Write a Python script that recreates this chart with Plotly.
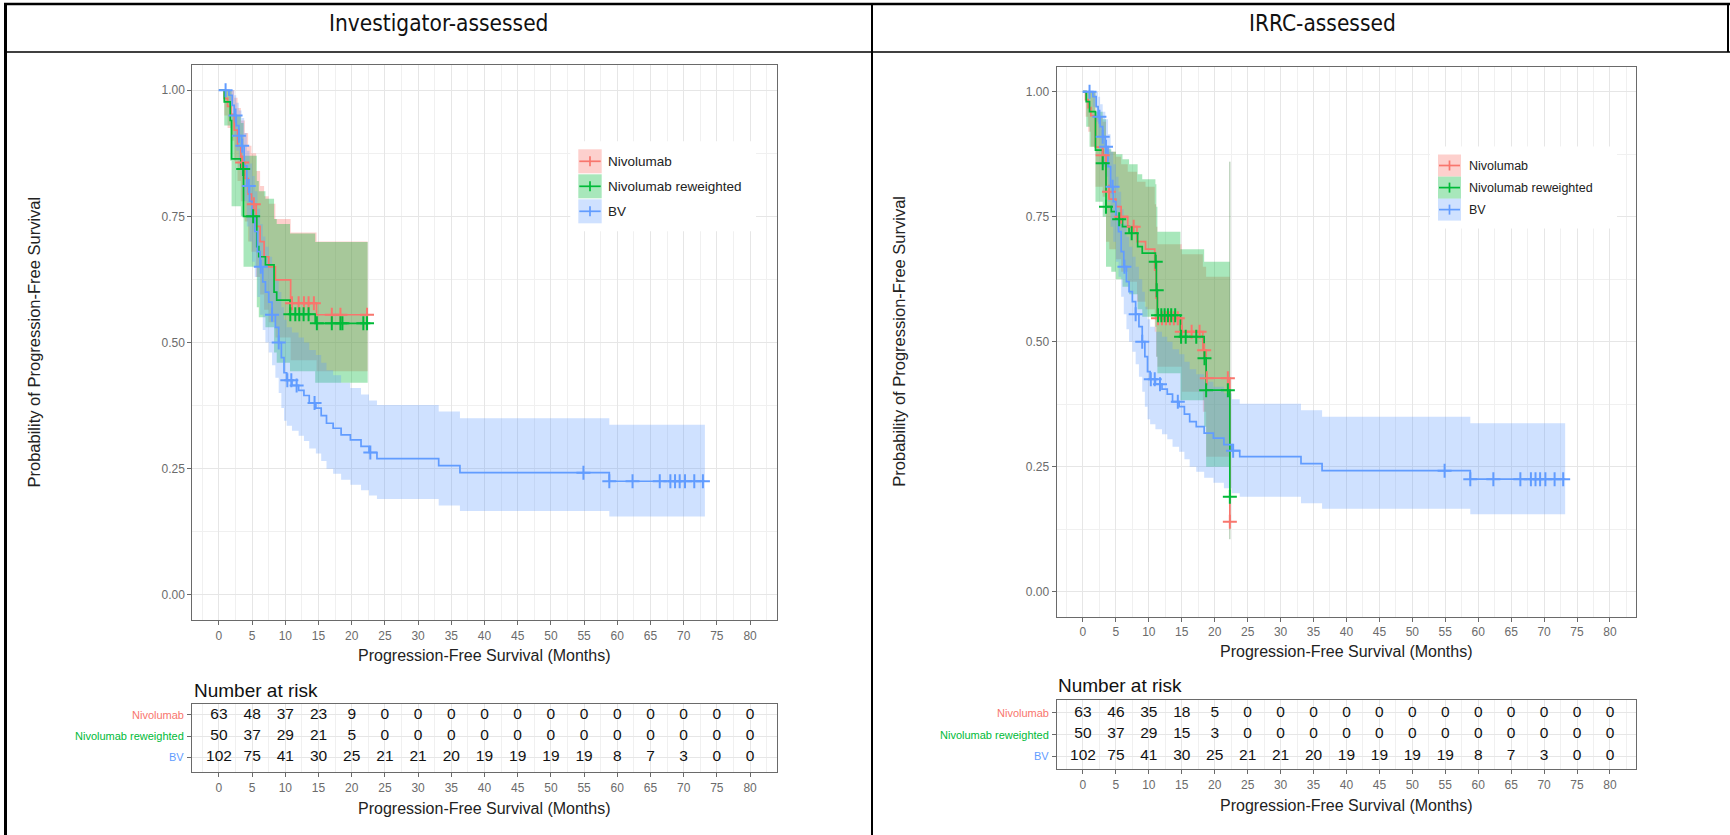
import numpy as np
import plotly.graph_objects as go

W, H = 1730, 835
FONT = "Liberation Sans, Arial, sans-serif"
RED, GREEN, BLUE = "#F8766D", "#00BA38", "#619CFF"
FILL = {RED: "rgba(248,118,109,0.34)", GREEN: "rgba(0,186,56,0.34)", BLUE: "rgba(97,156,255,0.30)"}

# ---------------- data ----------------
panel_titles = ["Investigator-assessed", "IRRC-assessed"]
groups = ["Nivolumab", "Nivolumab reweighted", "BV"]
risk_times = list(range(0, 85, 5))

# BV (same comparator arm in both panels)
bv_t = [0, 1.5, 2.0, 2.3, 2.6, 3.0, 3.4, 3.8, 4.2, 4.6, 5.0, 5.4, 5.8, 6.2, 6.6, 7.0, 7.5, 8.0, 8.5, 9.0,
        9.4, 9.8, 10.2, 11.0, 12.0, 12.8, 13.6, 14.6, 15.4, 16.2, 17.2, 18.4, 19.8, 21.4, 22.6, 23.8, 33.1, 36.3, 58.8]
bv_s = [1.0, 0.99, 0.97, 0.95, 0.93, 0.91, 0.89, 0.85, 0.81, 0.78, 0.75, 0.72, 0.68, 0.65, 0.62, 0.60, 0.58, 0.555, 0.53, 0.50,
        0.47, 0.44, 0.425, 0.415, 0.405, 0.395, 0.38, 0.37, 0.355, 0.34, 0.33, 0.317, 0.307, 0.294, 0.282, 0.27, 0.256, 0.242, 0.225]
bv_hi = [1.0, 1.0, 1.0, 0.99, 0.975, 0.96, 0.945, 0.915, 0.88, 0.855, 0.83, 0.80, 0.765, 0.735, 0.71, 0.69, 0.67, 0.65, 0.625, 0.60,
         0.57, 0.545, 0.53, 0.52, 0.51, 0.50, 0.485, 0.475, 0.46, 0.445, 0.435, 0.42, 0.41, 0.397, 0.385, 0.376, 0.363, 0.35, 0.337]
bv_lo = [1.0, 0.97, 0.94, 0.91, 0.88, 0.85, 0.83, 0.78, 0.73, 0.70, 0.66, 0.63, 0.59, 0.555, 0.525, 0.50, 0.48, 0.455, 0.43, 0.40,
         0.37, 0.345, 0.335, 0.325, 0.315, 0.305, 0.29, 0.28, 0.265, 0.25, 0.24, 0.228, 0.218, 0.207, 0.197, 0.19, 0.177, 0.166, 0.155]
bv_end = 73.2
bv_cens = [1.0, 2.5, 3.0, 3.5, 4.5, 6.3, 8.0, 9.0, 10.3, 10.9, 11.7, 14.4, 22.8, 54.9, 58.8, 62.3, 66.4, 68.0, 68.7,
           69.4, 70.2, 71.6, 72.9]

# Investigator-assessed: Nivolumab
inv_n_t = [0, 0.8, 1.3, 1.8, 2.3, 2.8, 3.3, 3.9, 4.4, 4.9, 5.6, 6.2, 6.8, 7.5, 8.5, 10.8, 14.7]
inv_n_s = [1.0, 0.984, 0.968, 0.952, 0.921, 0.889, 0.857, 0.825, 0.794, 0.774, 0.73, 0.70, 0.67, 0.65, 0.624, 0.578, 0.555]
inv_n_hi = [1.0, 1.0, 1.0, 1.0, 0.985, 0.965, 0.94, 0.915, 0.89, 0.875, 0.84, 0.81, 0.79, 0.775, 0.745, 0.718, 0.70]
inv_n_lo = [1.0, 0.95, 0.925, 0.90, 0.86, 0.82, 0.78, 0.74, 0.70, 0.68, 0.63, 0.595, 0.565, 0.54, 0.51, 0.465, 0.443]
inv_n_end = 22.4
inv_n_cens = [3.5, 5.25, 11.0, 12.0, 12.8, 13.5, 14.3, 17.0, 18.3, 22.3]

# Investigator-assessed: Nivolumab reweighted
inv_r_t = [0, 0.8, 1.7, 1.9, 3.3, 3.7, 5.7, 6.0, 7.0, 8.3, 8.7, 10.7, 14.5]
inv_r_s = [1.0, 0.977, 0.94, 0.864, 0.844, 0.75, 0.69, 0.67, 0.654, 0.60, 0.584, 0.556, 0.538]
inv_r_hi = [1.0, 1.0, 1.0, 0.95, 0.935, 0.87, 0.82, 0.80, 0.785, 0.745, 0.735, 0.716, 0.699]
inv_r_lo = [1.0, 0.93, 0.86, 0.77, 0.75, 0.65, 0.57, 0.55, 0.53, 0.48, 0.46, 0.443, 0.42]
inv_r_end = 22.4
inv_r_cens = [3.65, 5.15, 10.75, 11.5, 12.1, 12.75, 13.5, 14.75, 17.0, 18.3, 18.6, 21.75, 22.3]

# IRRC-assessed: Nivolumab
irc_n_t = [0, 0.4, 0.8, 1.2, 1.9, 3.0, 3.5, 4.0, 5.0, 5.8, 6.8, 8.2, 9.5, 10.9, 11.1, 11.3, 15.0, 18.2, 18.7, 22.3]
irc_n_s = [1.0, 0.984, 0.968, 0.952, 0.889, 0.873, 0.80, 0.785, 0.77, 0.75, 0.73, 0.70, 0.685, 0.643, 0.587, 0.547,
           0.52, 0.483, 0.427, 0.14]
irc_n_hi = [1.0, 1.0, 1.0, 1.0, 0.95, 0.94, 0.89, 0.88, 0.87, 0.855, 0.84, 0.82, 0.81, 0.775, 0.73, 0.695, 0.675,
            0.65, 0.63, 0.86]
irc_n_lo = [1.0, 0.95, 0.92, 0.89, 0.81, 0.79, 0.70, 0.685, 0.665, 0.64, 0.62, 0.58, 0.565, 0.52, 0.47, 0.45, 0.40,
            0.36, 0.27, 0.105]
irc_n_end = 22.3
irc_n_cens = [3.0, 3.95, 5.8, 7.7, 11.4, 12.0, 12.6, 13.2, 13.8, 14.4, 15.0, 16.5, 17.7, 18.4, 18.8, 22.0, 22.3]

# IRRC-assessed: Nivolumab reweighted
irc_r_t = [0, 0.5, 1.0, 1.9, 3.0, 3.5, 4.3, 5.0, 6.0, 7.0, 8.3, 9.0, 11.0, 11.15, 11.3, 14.8, 18.4, 18.7, 22.3]
irc_r_s = [1.0, 0.98, 0.96, 0.883, 0.857, 0.77, 0.76, 0.745, 0.73, 0.717, 0.69, 0.677, 0.66, 0.603, 0.553, 0.51,
           0.467, 0.403, 0.19]
irc_r_hi = [1.0, 1.0, 1.0, 0.96, 0.945, 0.885, 0.88, 0.875, 0.865, 0.855, 0.835, 0.825, 0.815, 0.77, 0.72, 0.685,
            0.66, 0.66, 0.86]
irc_r_lo = [1.0, 0.93, 0.89, 0.78, 0.75, 0.65, 0.64, 0.625, 0.61, 0.595, 0.565, 0.55, 0.53, 0.47, 0.437, 0.383,
            0.33, 0.25, 0.10]
irc_r_end = 22.3
irc_r_cens = [3.0, 3.5, 5.5, 7.4, 11.05, 11.2, 11.4, 11.9, 12.4, 12.9, 13.4, 14.0, 14.9, 15.6, 17.2, 18.45, 18.7,
              22.0, 22.3]

# Number at risk tables
inv_risk_nivo = [63, 48, 37, 23, 9, 0, 0, 0, 0, 0, 0, 0, 0, 0, 0, 0, 0]
inv_risk_rew = [50, 37, 29, 21, 5, 0, 0, 0, 0, 0, 0, 0, 0, 0, 0, 0, 0]
inv_risk_bv = [102, 75, 41, 30, 25, 21, 21, 20, 19, 19, 19, 19, 8, 7, 3, 0, 0]
irc_risk_nivo = [63, 46, 35, 18, 5, 0, 0, 0, 0, 0, 0, 0, 0, 0, 0, 0, 0]
irc_risk_rew = [50, 37, 29, 15, 3, 0, 0, 0, 0, 0, 0, 0, 0, 0, 0, 0, 0]
irc_risk_bv = [102, 75, 41, 30, 25, 21, 21, 20, 19, 19, 19, 19, 8, 7, 3, 0, 0]


# ---------------- helpers ----------------
def X(px):
    return px / W


def Y(py):
    return 1 - py / H


def step_at(ts, ss, c):
    i = int(np.searchsorted(np.asarray(ts), c, side="right")) - 1
    return ss[max(i, 0)]


fig = go.Figure()


def add_band(t, lo, hi, end, color, xa, ya):
    tx = list(t) + [end]
    fig.add_trace(go.Scatter(x=tx, y=list(lo) + [lo[-1]], mode="lines", line=dict(width=0, shape="hv"),
                             xaxis=xa, yaxis=ya, hoverinfo="skip"))
    fig.add_trace(go.Scatter(x=tx, y=list(hi) + [hi[-1]], mode="lines", line=dict(width=0, shape="hv"),
                             fill="tonexty", fillcolor=FILL[color], xaxis=xa, yaxis=ya, hoverinfo="skip"))


def add_line(t, s, end, color, xa, ya):
    fig.add_trace(go.Scatter(x=list(t) + [end], y=list(s) + [s[-1]], mode="lines",
                             line=dict(color=color, width=1.7, shape="hv"), xaxis=xa, yaxis=ya))


def add_cens(t, s, cens, color, xa, ya):
    fig.add_trace(go.Scatter(x=cens, y=[step_at(t, s, c) for c in cens], mode="markers",
                             marker=dict(symbol="cross-thin", size=10, line=dict(width=2, color=color)),
                             xaxis=xa, yaxis=ya))


panels = [
    dict(xa="x", ya="y",
         curves=[(inv_n_t, inv_n_s, inv_n_lo, inv_n_hi, inv_n_end, inv_n_cens, RED),
                 (inv_r_t, inv_r_s, inv_r_lo, inv_r_hi, inv_r_end, inv_r_cens, GREEN),
                 (bv_t, bv_s, bv_lo, bv_hi, bv_end, bv_cens, BLUE)]),
    dict(xa="x3", ya="y3",
         curves=[(irc_n_t, irc_n_s, irc_n_lo, irc_n_hi, irc_n_end, irc_n_cens, RED),
                 (irc_r_t, irc_r_s, irc_r_lo, irc_r_hi, irc_r_end, irc_r_cens, GREEN),
                 (bv_t, bv_s, bv_lo, bv_hi, bv_end, bv_cens, BLUE)]),
]

for p in panels:
    for (t, s, lo, hi, end, cens, col) in p["curves"]:
        add_band(t, lo, hi, end, col, p["xa"], p["ya"])
    if p["xa"] == "x3":
        # zero-width confidence interval of the last step
        fig.add_trace(go.Scatter(x=[irc_n_end, irc_n_end], y=[irc_n_lo[-1], irc_n_hi[-1]], mode="lines",
                                 line=dict(color="rgba(100,150,100,0.6)", width=1), xaxis="x3", yaxis="y3"))
    for (t, s, lo, hi, end, cens, col) in p["curves"]:
        add_line(t, s, end, col, p["xa"], p["ya"])
    for (t, s, lo, hi, end, cens, col) in p["curves"]:
        add_cens(t, s, cens, col, p["xa"], p["ya"])

# risk tables
tables = [("x2", "y2", [inv_risk_nivo, inv_risk_rew, inv_risk_bv]),
          ("x4", "y4", [irc_risk_nivo, irc_risk_rew, irc_risk_bv])]
for xa, ya, rows in tables:
    for k, row in enumerate(rows):
        fig.add_trace(go.Scatter(x=risk_times, y=[3 - k] * len(risk_times), text=[str(v) for v in row],
                                 mode="text", textfont=dict(family=FONT, size=15.5, color="#111111"),
                                 xaxis=xa, yaxis=ya))

GRID = "#e6e6e6"
MINOR = "#f0f0f0"
AXL = "#6a6a6a"
TICKF = dict(family=FONT, size=12, color="#6b6b6b")


def xax(dom, anchor):
    return dict(domain=dom, range=[-4, 84], anchor=anchor, tickmode="linear", tick0=0, dtick=5,
                ticks="outside", ticklen=4, tickcolor=AXL, tickfont=TICKF, showline=True, mirror=True,
                linecolor=AXL, linewidth=1.2, showgrid=True, gridcolor=GRID, zeroline=False,
                minor=dict(tick0=2.5, dtick=5, showgrid=True, gridcolor=MINOR))


def yax_plot(dom, anchor):
    return dict(domain=dom, range=[-0.05, 1.05], anchor=anchor, tickmode="linear", tick0=0, dtick=0.25,
                tickformat=".2f", ticks="outside", ticklen=4, tickcolor=AXL, tickfont=TICKF, showline=True,
                mirror=True, linecolor=AXL, linewidth=1.2, showgrid=True, gridcolor=GRID, zeroline=False,
                minor=dict(tick0=0.125, dtick=0.25, showgrid=True, gridcolor=MINOR))


def yax_tab(dom, anchor, rng):
    return dict(domain=dom, range=rng, anchor=anchor, tickmode="array", tickvals=[1, 2, 3],
                ticktext=["", "", ""], ticks="outside", ticklen=4, tickcolor=AXL, showline=True, mirror=True,
                linecolor=AXL, linewidth=1.2, showgrid=True, gridcolor=GRID, zeroline=False)


L_X = [X(192.4), X(776.6)]
R_X = [X(1056.6), X(1636.3)]

fig.update_layout(
    width=W, height=H, margin=dict(l=0, r=0, t=0, b=0), showlegend=False,
    paper_bgcolor="white", plot_bgcolor="white", font=dict(family=FONT),
    xaxis=xax(L_X, "y"), yaxis=yax_plot([Y(620), Y(65)], "x"),
    xaxis2=xax(L_X, "y2"), yaxis2=yax_tab([Y(772), Y(704)], "x2", [0.29, 3.52]),
    xaxis3=xax(R_X, "y3"), yaxis3=yax_plot([Y(616.7), Y(66.7)], "x3"),
    xaxis4=xax(R_X, "y4"), yaxis4=yax_tab([Y(769), Y(700)], "x4", [0.4, 3.6]),
)

ann = []
shapes = []


def text_at(txt, px, py, font, xanchor="center", angle=0):
    ann.append(dict(text=txt, x=X(px), y=Y(py), xref="paper", yref="paper", xanchor=xanchor, yanchor="middle",
                    showarrow=False, textangle=angle, font=font))


# document table frame and headers
BLACK = "#000000"
shapes += [
    dict(type="line", xref="paper", yref="paper", x0=X(4), x1=X(1730), y0=Y(4), y1=Y(4), line=dict(color=BLACK, width=2.5)),
    dict(type="line", xref="paper", yref="paper", x0=X(5.5), x1=X(5.5), y0=Y(3), y1=Y(835), line=dict(color=BLACK, width=3)),
    dict(type="line", xref="paper", yref="paper", x0=X(872), x1=X(872), y0=Y(3), y1=Y(835), line=dict(color=BLACK, width=2)),
    dict(type="line", xref="paper", yref="paper", x0=X(1728), x1=X(1728), y0=Y(3), y1=Y(52), line=dict(color=BLACK, width=2)),
    dict(type="line", xref="paper", yref="paper", x0=X(5), x1=X(1730), y0=Y(52), y1=Y(52), line=dict(color=BLACK, width=1.5)),
]
HFONT = dict(family="DejaVu Sans Condensed, DejaVu Sans, sans-serif", size=22.5, color="#111111")
text_at(panel_titles[0], 438, 23, HFONT)
text_at(panel_titles[1], 1322, 23, HFONT)

TITLEF = dict(family=FONT, size=16, color="#222222")
for cx, cy in [(484.5, 655), (1346.5, 651)]:
    text_at("Progression-Free Survival (Months)", cx, cy, TITLEF)
for cx, cy in [(484.5, 808), (1346.5, 805)]:
    text_at("Progression-Free Survival (Months)", cx, cy, TITLEF)
for cx, cy in [(33, 342.5), (899, 341.7)]:
    text_at("Probability of Progression-Free Survival", cx, cy, dict(family=FONT, size=16.5, color="#222222"),
            angle=-90)
for lx, cy in [(192, 690), (1056, 685)]:
    text_at("Number at risk", lx, cy, dict(family=FONT, size=19, color="#111111"), xanchor="left")

# risk table row labels
for xa, ya in [("x2", "y2"), ("x4", "y4")]:
    for k, (g, c) in enumerate(zip(groups, [RED, GREEN, BLUE])):
        ann.append(dict(text=g, x=0, xref=xa + " domain", y=3 - k, yref=ya, xanchor="right", yanchor="middle",
                        xshift=-6, showarrow=False, font=dict(family=FONT, size=11, color=c)))


# legends (drawn by hand, ggplot style key boxes)
def legend(x0, yc, kw, kh, tx, fs):
    shapes.append(dict(type="rect", xref="paper", yref="paper", x0=X(x0 - 8), x1=X(tx + 150),
                       y0=Y(yc[0] - kh / 2 - 8), y1=Y(yc[-1] + kh / 2 + 8), line=dict(width=0), fillcolor="white",
                       layer="above"))
    for g, c, y in zip(groups, [RED, GREEN, BLUE], yc):
        shapes.append(dict(type="rect", xref="paper", yref="paper", x0=X(x0), x1=X(x0 + kw), y0=Y(y - kh / 2),
                           y1=Y(y + kh / 2), line=dict(width=0), fillcolor=FILL[c], layer="above"))
        shapes.append(dict(type="line", xref="paper", yref="paper", x0=X(x0 + 1), x1=X(x0 + kw - 1), y0=Y(y),
                           y1=Y(y), line=dict(color=c, width=1.7), layer="above"))
        shapes.append(dict(type="line", xref="paper", yref="paper", x0=X(x0 + kw / 2), x1=X(x0 + kw / 2),
                           y0=Y(y - 5), y1=Y(y + 5), line=dict(color=c, width=1.7), layer="above"))
        text_at(g, tx, y, dict(family=FONT, size=fs, color="#222222"), xanchor="left")


legend(578.3, [161.3, 186.3, 211.3], 23.4, 24, 606, 13.5)
legend(1438, [165.5, 187.6, 209.6], 23, 22, 1467, 12.5)

fig.update_layout(annotations=ann, shapes=shapes)
fig.write_html("out.html", config={"displayModeBar": False},
               post_script="document.body.style.margin='0';document.body.style.padding='0';"
                           "document.body.style.overflow='hidden';")
